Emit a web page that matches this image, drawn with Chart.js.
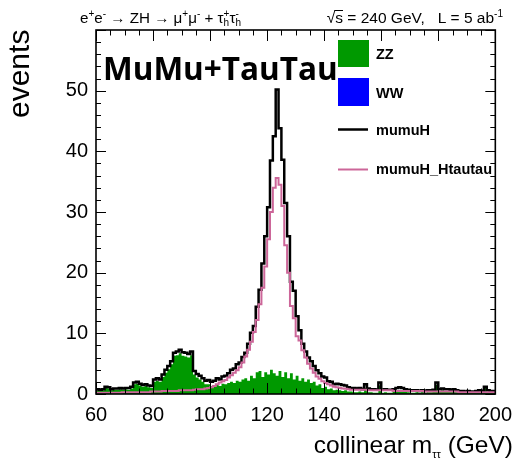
<!DOCTYPE html>
<html><head><meta charset="utf-8">
<script src="https://cdn.jsdelivr.net/npm/chart.js@4/dist/chart.umd.min.js"></script>
<style>html,body{margin:0;padding:0;background:#fff;}#wrap{width:521px;height:464px;}</style>
</head><body><div id="wrap"><canvas id="c" width="521" height="464"></canvas></div>
<script>
const binLowEdges = [60,61,62,63,64,65,66,67,68,69,70,71,72,73,74,75,76,77,78,79,80,81,82,83,84,85,86,87,88,89,90,91,92,93,94,95,96,97,98,99,100,101,102,103,104,105,106,107,108,109,110,111,112,113,114,115,116,117,118,119,120,121,122,123,124,125,126,127,128,129,130,131,132,133,134,135,136,137,138,139,140,141,142,143,144,145,146,147,148,149,150,151,152,153,154,155,156,157,158,159,160,161,162,163,164,165,166,167,168,169,170,171,172,173,174,175,176,177,178,179,180,181,182,183,184,185,186,187,188,189,190,191,192,193,194,195,196,197,198,199];
const binWidth = 1;
const zz = [0.7,0.6,0.5,0.6,1.0,0.9,0.6,0.7,0.7,0.8,
0.7,0.8,0.7,0.9,1.6,1.7,1.4,1.2,1.3,1.1,
1.0,2.0,2.2,2.0,2.8,3.5,4.1,4.9,6.3,6.4,
6.7,6.3,6.2,6.0,6.4,3.2,2.7,2.4,2.0,1.6,
1.6,1.3,1.4,1.6,1.3,1.7,1.6,1.8,2.0,1.8,
2.2,2.0,2.4,2.6,2.2,3.0,2.6,3.6,3.8,2.8,
3.6,3.2,4.0,3.4,3.0,3.8,2.8,3.6,2.6,3.4,
2.4,3.0,2.2,2.6,2.0,2.4,1.8,2.0,1.4,1.6,
1.0,1.2,0.8,0.9,0.6,0.7,0.6,0.5,0.6,0.4,
0.4,0.3,0.3,0.4,0.3,1.0,0.3,0.3,0.2,0.2,
1.4,0.2,0.3,0.2,0.2,0.4,0.6,0.6,0.6,0.4,
0.3,0.2,0.2,0.3,0.2,0.3,0.2,0.3,0.3,0.4,
1.5,0.5,0.6,0.5,0.5,0.4,0.5,0.3,0.3,0.2,
0.2,0.3,0.2,0.2,0.3,0.4,0.3,1.0,0.4,0.3];
const ww = [0,0,0,0,0,0,0,0,0,0,0,0,0,0,0,0,0,0,0,0,
0,0,0,0,0,0,0,0,0,0,0,0,0,0,0,0,0,0,0,0,
0,0,0,0,0,0,0,0,0,0,0,0,0,0,0,0,0,0,0,0,
0,0,0,0,0,0,0,0,0,0,0,0,0,0,0,0,0,0,0,0,
0,0,0,0,0,0,0,0,0,0,0,0,0,0,0,0,0,0,0,0,
0,0,0,0,0,0,0,0,0,0,0,0,0,0,0,0,0,0,0,0,
0,0,0,0,0,0,0,0,0,0,0,0,0,0,0,0,0,0,0,0];
const mumuH = [0.2,0.2,0.2,0.2,0.2,0.2,0.2,0.2,0.2,0.2,
0.2,0.2,0.3,0.3,0.3,0.3,0.3,0.3,0.3,0.3,
0.3,0.4,0.4,0.4,0.4,0.5,0.5,0.5,0.5,0.6,
0.6,0.6,0.6,0.6,0.6,0.6,0.6,0.6,0.6,0.6,
0.7,0.7,0.8,1.0,1.1,1.2,1.4,1.6,2.0,2.4,
2.7,3.2,3.7,4.2,6.1,7.1,8.6,10.8,13.4,18.7,
22.4,27.6,34.5,39.1,47.2,40.0,35.8,27.9,23.4,15.1,
14.6,9.8,8.3,5.7,5.0,3.6,3.6,2.6,2.5,1.8,
1.9,1.5,1.3,1.1,1.0,1.0,1.0,1.0,0.8,0.7,
0.6,0.7,0.6,0.6,0.5,0.6,0.6,0.5,0.6,0.5,
0.5,0.5,0.5,0.5,0.5,0.4,0.4,0.5,0.4,0.4,
0.4,0.4,0.4,0.3,0.3,0.3,0.3,0.3,0.3,0.3,
0.4,0.3,0.3,0.3,0.3,0.3,0.3,0.3,0.2,0.3,
0.2,0.2,0.2,0.2,0.2,0.2,0.2,0.2,0.2,0.2];
const mumuH_Htautau = [0.2,0.2,0.2,0.2,0.2,0.2,0.2,0.2,0.2,0.2,
0.3,0.3,0.3,0.3,0.3,0.3,0.3,0.3,0.3,0.3,
0.4,0.4,0.4,0.4,0.5,0.5,0.5,0.5,0.5,0.5,
0.6,0.6,0.6,0.6,0.6,0.7,0.8,0.8,0.8,0.9,
1.0,1.1,1.3,1.6,1.9,2.1,2.3,2.7,3.1,3.5,
3.9,4.4,5.2,6.2,7.3,8.6,10.2,12.2,14.8,17.5,
21.0,25.5,30.0,34.0,35.6,34.5,31.0,24.5,20.0,14.5,
12.5,9.5,8.8,7.2,6.0,5.0,4.2,3.5,2.9,2.5,
2.1,1.8,1.6,1.4,1.2,1.1,1.0,0.9,0.85,0.8,
0.7,0.7,0.7,0.7,0.7,0.7,0.6,0.6,0.6,0.6,
0.6,0.6,0.6,0.6,0.6,0.5,0.5,0.5,0.5,0.5,
0.5,0.5,0.5,0.5,0.5,0.5,0.4,0.4,0.4,0.4,
0.4,0.4,0.4,0.4,0.4,0.4,0.4,0.4,0.3,0.3,
0.3,0.3,0.3,0.3,0.3,0.3,0.3,0.3,0.3,0.3];
const xTickValues = [60,80,100,120,140,160,180,200];
const yTickValues = [0,10,20,30,40,50];
const xMinorStep = 5, yMinorStep = 2;
const legendLabels = ['ZZ','WW','mumuH','mumuH_Htautau'];
const colZZ = 'rgb(0,153,0)', colWW = 'rgb(0,0,255)', colH = '#000000', colHtt = 'rgb(204,102,153)';

function steps(vals){
  const pts = binLowEdges.map((x,i)=>({x:x, y:vals[i]}));
  pts.push({x: binLowEdges[binLowEdges.length-1]+binWidth, y: vals[vals.length-1]});
  return pts;
}
const stackZZ = zz.slice();
const stackWW = zz.map((v,i)=>v+ww[i]);
const stackAll = stackWW.map((v,i)=>v+mumuH[i]);

function drawRich(ctx, segs, x, y){
  let cx = x;
  for (const s of segs){
    if (s.sub !== undefined){
      ctx.font = s.font;
      ctx.fillText(s.sub, cx, y + s.subdy);
      ctx.fillText(s.sup, cx, y + s.supdy);
      cx += Math.max(ctx.measureText(s.sub).width, ctx.measureText(s.sup).width);
    } else {
      ctx.font = s.font;
      ctx.fillText(s.t, cx, y + (s.dy||0));
      cx += ctx.measureText(s.t).width;
    }
  }
  return cx - x;
}
function richWidth(ctx, segs){
  let w = 0;
  for (const s of segs){
    ctx.font = s.font;
    if (s.sub !== undefined) w += Math.max(ctx.measureText(s.sub).width, ctx.measureText(s.sup).width);
    else w += ctx.measureText(s.t).width;
  }
  return w;
}

const decor = {
  id: 'decor',
  afterDraw(chart){
    const ctx = chart.ctx;
    const xs = chart.scales.x, ys = chart.scales.y;
    const {left, right, top, bottom} = chart.chartArea;
    ctx.save();
    ctx.strokeStyle = '#000';
    ctx.lineWidth = 1;
    for (let v = xs.min; v <= xs.max + 1e-9; v += xMinorStep){
      const px = Math.round(xs.getPixelForValue(v)) + 0.5;
      const major = xTickValues.includes(v);
      const L = major ? 11 : 5.5;
      ctx.beginPath();
      ctx.moveTo(px, bottom); ctx.lineTo(px, bottom - L);
      ctx.moveTo(px, top); ctx.lineTo(px, top + L);
      ctx.stroke();
    }
    for (let v = ys.min; v <= ys.max + 1e-9; v += yMinorStep){
      const py = Math.round(ys.getPixelForValue(v)) + 0.5;
      const major = (v % 10 === 0);
      const L = major ? 10 : 5;
      ctx.beginPath();
      ctx.moveTo(left, py); ctx.lineTo(left + L, py);
      ctx.moveTo(right, py); ctx.lineTo(right - L, py);
      ctx.stroke();
    }
    ctx.lineWidth = 1.6;
    ctx.strokeRect(left, top, right - left, bottom - top);

    ctx.fillStyle = '#000';
    ctx.textBaseline = 'alphabetic';
    ctx.textAlign = 'left';
    const F = '15.2px "Liberation Sans", Arial, sans-serif';
    const S = '10px "Liberation Sans", Arial, sans-serif';
    drawRich(ctx, [
      {t:'e', font:F}, {t:'+', font:S, dy:-6}, {t:'e', font:F}, {t:'-', font:S, dy:-6},
      {t:' \u2192 ZH \u2192 \u03bc', font:F}, {t:'+', font:S, dy:-6}, {t:'\u03bc', font:F}, {t:'-', font:S, dy:-6},
      {t:' + \u03c4', font:F}, {sub:'h', sup:'+', font:S, subdy:3, supdy:-6},
      {t:'\u03c4', font:F}, {sub:'h', sup:'-', font:S, subdy:3, supdy:-6}
    ], 80, 23);
    const F2 = '15.5px "Liberation Sans", Arial, sans-serif';
    const rseg = [{t:'\u221as = 240 GeV,   L = 5 ab', font:F2}, {t:'-1', font:S, dy:-6}];
    const rw = richWidth(ctx, rseg);
    drawRich(ctx, rseg, 503 - rw, 23);
    ctx.font = F2;
    const sx = 503 - rw;
    const wRad = ctx.measureText('\u221a').width, wS = ctx.measureText('s').width;
    ctx.lineWidth = 1;
    ctx.beginPath(); ctx.moveTo(sx + wRad - 1, 10.5); ctx.lineTo(sx + wRad + wS, 10.5); ctx.stroke();

    ctx.font = 'bold 31.5px "Open Sans", "Noto Sans", sans-serif';
    ctx.fillText('MuMu+TauTau', 103, 80);

    ctx.fillStyle = colZZ; ctx.fillRect(338, 40, 31, 27);
    ctx.fillStyle = colWW; ctx.fillRect(338, 78, 31, 28);
    ctx.lineWidth = 2.5; ctx.strokeStyle = colH;
    ctx.beginPath(); ctx.moveTo(338, 129.5); ctx.lineTo(368, 129.5); ctx.stroke();
    ctx.lineWidth = 2; ctx.strokeStyle = colHtt;
    ctx.beginPath(); ctx.moveTo(338, 169.5); ctx.lineTo(368, 169.5); ctx.stroke();
    ctx.fillStyle = '#000';
    ctx.font = 'bold 14.5px "Liberation Sans", Arial, sans-serif';
    ctx.fillText(legendLabels[0], 376, 59);
    ctx.fillText(legendLabels[1], 376, 98);
    ctx.fillText(legendLabels[2], 376, 135);
    ctx.fillText(legendLabels[3], 376, 174);

    const XF = '24.5px "Liberation Sans", Arial, sans-serif';
    const XS = '11px "Liberation Sans", Arial, sans-serif';
    const xseg = [{t:'collinear m', font:XF}, {t:'\u03c4\u03c4', font:XS, dy:5}, {t:' (GeV)', font:XF}];
    const xw = richWidth(ctx, xseg);
    drawRich(ctx, xseg, 513 - xw, 453);

    ctx.save();
    ctx.translate(29, 118);
    ctx.rotate(-Math.PI/2);
    ctx.font = '30px "Liberation Sans", Arial, sans-serif';
    ctx.fillText('events', 0, 0);
    ctx.restore();
    ctx.restore();
  }
};

new Chart(document.getElementById('c'), {
  type: 'line',
  data: {
    datasets: [
      {label: legendLabels[0], data: steps(stackZZ), stepped: 'after', fill: 'origin',
       backgroundColor: colZZ, borderColor: colZZ, borderWidth: 0, pointRadius: 0, order: 4},
      {label: legendLabels[1], data: steps(stackWW), stepped: 'after', fill: '-1',
       backgroundColor: colWW, borderColor: colWW, borderWidth: 0, pointRadius: 0, order: 3},
      {label: legendLabels[2], data: steps(stackAll), stepped: 'after', fill: false,
       borderColor: colH, borderWidth: 2.5, pointRadius: 0, order: 2},
      {label: legendLabels[3], data: steps(mumuH_Htautau), stepped: 'after', fill: false,
       borderColor: colHtt, borderWidth: 2, pointRadius: 0, order: 1}
    ]
  },
  options: {
    responsive: false, animation: false, devicePixelRatio: 1,
    layout: {padding: {left: 0, right: 20, top: 30, bottom: 0}},
    plugins: {legend: {display: false}, tooltip: {enabled: false}},
    scales: {
      x: {type: 'linear', min: 60, max: 200,
          grid: {display: false, drawTicks: false}, border: {display: false},
          afterBuildTicks: s => { s.ticks = xTickValues.map(v => ({value: v})); },
          afterFit: s => { s.height = 70; },
          ticks: {color: '#000', padding: 9, maxRotation: 0, autoSkip: false,
                  font: {family: '"Liberation Sans", Arial, sans-serif', size: 20}}},
      y: {type: 'linear', min: 0, max: 60,
          grid: {display: false, drawTicks: false}, border: {display: false},
          afterBuildTicks: s => { s.ticks = yTickValues.map(v => ({value: v})); },
          afterFit: s => { s.width = 96; },
          ticks: {color: '#000', padding: 8, autoSkip: false,
                  font: {family: '"Liberation Sans", Arial, sans-serif', size: 20}}}
    }
  },
  plugins: [decor]
});
</script>
</body></html>
